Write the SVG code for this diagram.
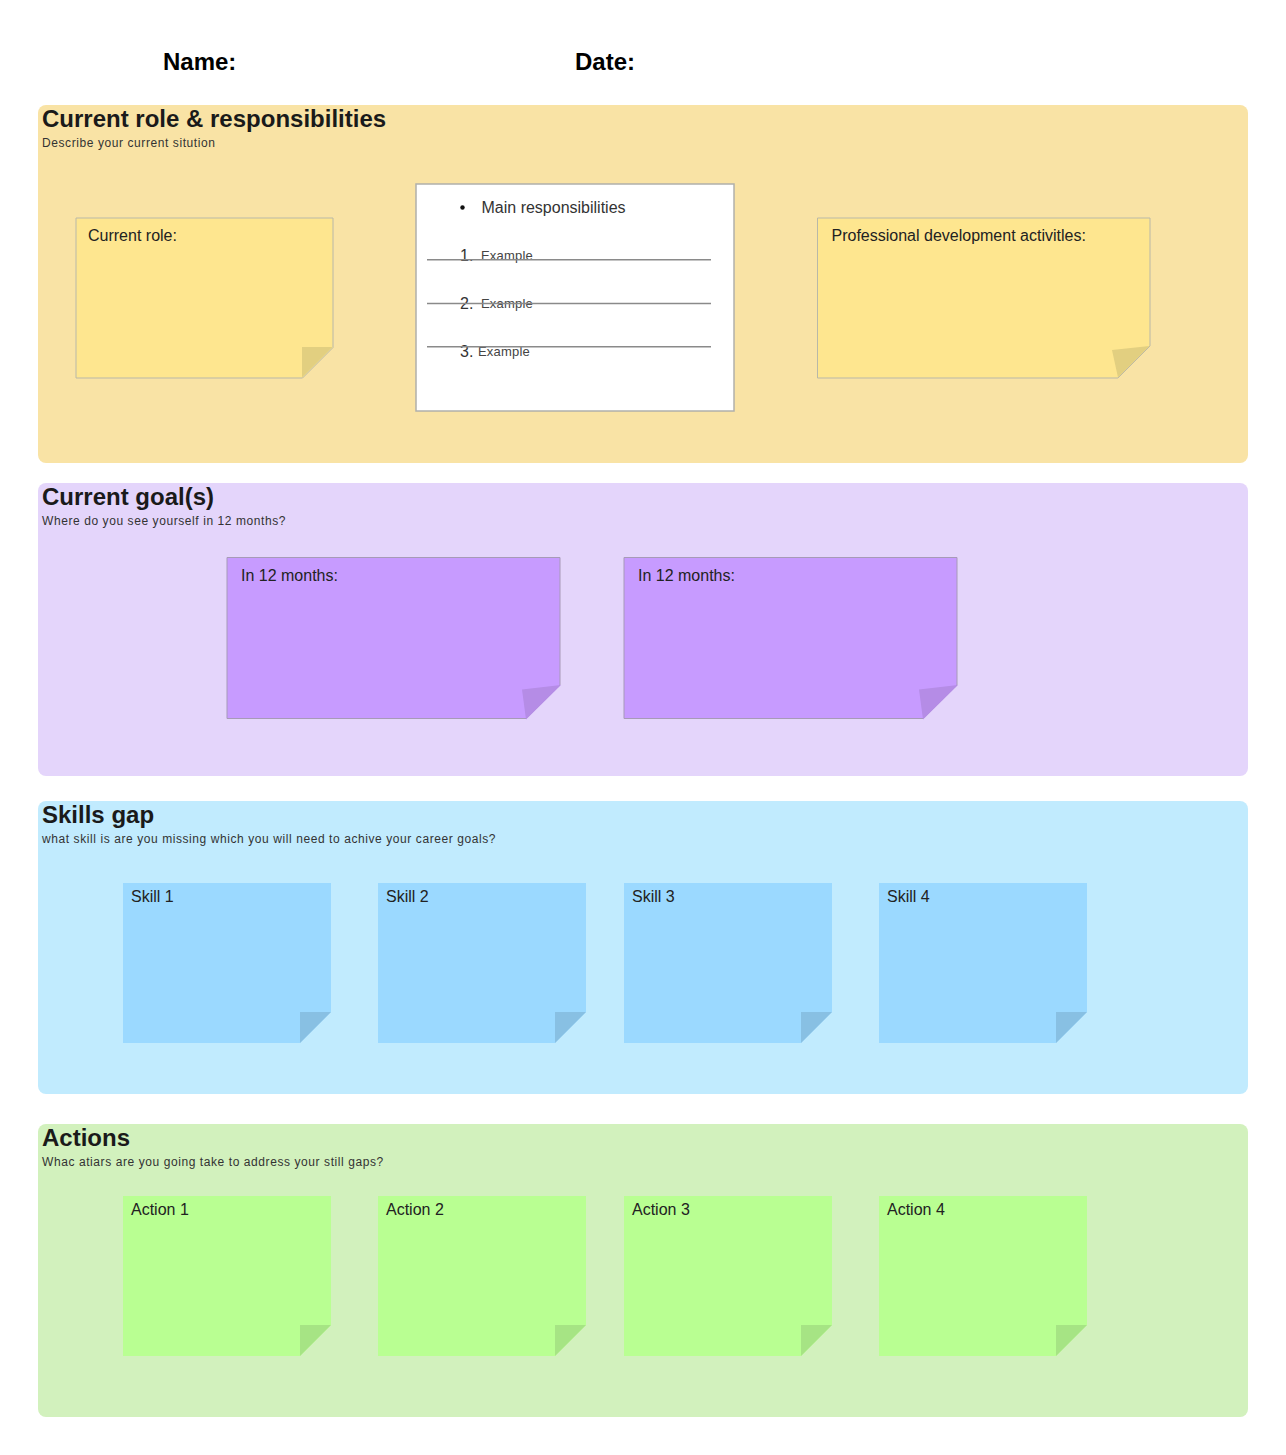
<svg xmlns="http://www.w3.org/2000/svg" width="1286" height="1455" viewBox="0 0 1286 1455">
<style>
text{font-family:"Liberation Sans",Arial,sans-serif;fill:#1f1f1f}
.h{font-size:24px;font-weight:700;fill:#1a1a1a}
.s{font-size:12px;fill:#333;letter-spacing:.58px}
.t{font-size:16px;fill:#222}
.top{font-size:24px;font-weight:700;fill:#000}
.e{font-size:13px;fill:#444;letter-spacing:.2px}
.n{font-size:16px;fill:#333}
.ln{stroke:#8a8a8a;stroke-width:1.500;fill:none}
.y{fill:#fee68f;stroke:#b9b8a8;stroke-width:1}
.yf{fill:#e2cf80}
.p{fill:#c79bff;stroke:#a79ab8;stroke-width:1}
.pf{fill:#b58ce6}
.b{fill:#9bd9ff}
.bf{fill:#88c0e3}
.g{fill:#b9ff92}
.gf{fill:#a6e484}
</style>
<rect width="1286" height="1455" fill="#fff"/>
<g id="header">
<text class="top" x="163" y="70">Name:</text>
<text class="top" x="575" y="70">Date:</text>
</g>
<g id="section-role">
<rect x="38" y="105" width="1210" height="358" rx="8" fill="#f9e3a5"/>
<text class="h" x="42" y="127">Current role &amp; responsibilities</text>
<text class="s" x="42" y="147">Describe your current sitution</text>
</g>
<g id="section-goals">
<rect x="38" y="483" width="1210" height="293" rx="8" fill="#e4d5fb"/>
<text class="h" x="42" y="505">Current goal(s)</text>
<text class="s" x="42" y="525">Where do you see yourself in 12 months?</text>
</g>
<g id="section-skills">
<rect x="38" y="801" width="1210" height="293" rx="8" fill="#c1ebfe"/>
<text class="h" x="42" y="823">Skills gap</text>
<text class="s" x="42" y="843">what skill is are you missing which you will need to achive your career goals?</text>
</g>
<g id="section-actions">
<rect x="38" y="1124" width="1210" height="293" rx="8" fill="#d2f1bd"/>
<text class="h" x="42" y="1146">Actions</text>
<text class="s" x="42" y="1166">Whac atiars are you going take to address your still gaps?</text>
</g>
<g id="note-role">
<path class="y" d="M76 218H333V347.500L302.500 378H76Z"/>
<path class="yf" d="M302 347H332.500L302 377.500Z"/>
<text class="t" x="88" y="241">Current role:</text>
</g>
<g id="card-responsibilities">
<rect x="416" y="184" width="318" height="227" fill="#fff" stroke="#b0b0ab" stroke-width="1.500"/>
<circle cx="462.500" cy="207.500" r="2.200" fill="#111"/>
<text class="n" x="481.500" y="213">Main responsibilities</text>
<text class="n" x="460" y="261">1.</text>
<text class="e" x="481" y="260">Example</text>
<text class="n" x="460" y="309">2.</text>
<text class="e" x="481" y="308">Example</text>
<text class="n" x="460" y="357">3.</text>
<text class="e" x="478" y="356">Example</text>
</g>
<g id="connectors">
<path class="ln" d="M427 259.800H711M427 303.500H711M427 346.800H711"/>
</g>
<g id="note-development">
<path class="y" d="M817.500 218H1150V346L1118 378H817.500Z"/>
<path class="yf" d="M1112 350L1149.500 346L1118 377.500Z"/>
<text class="t" x="831.500" y="241">Professional development activitles:</text>
</g>
<g id="note-goal-1">
<path class="p" d="M227 557.500H560V685L526 718.500H227Z"/>
<path class="pf" d="M522 689.500L561 685L526 719.500Z"/>
<text class="t" x="241" y="581">In 12 months:</text>
</g>
<g id="note-goal-2">
<path class="p" d="M624 557.500H957V685L923 718.500H624Z"/>
<path class="pf" d="M919 689.500L958 685L923 719.500Z"/>
<text class="t" x="638" y="581">In 12 months:</text>
</g>
<g id="note-skill-1"><path class="b" d="M123 883H331V1012L300 1043H123Z"/><path class="bf" d="M300 1012H331L300 1043Z"/><text class="t" x="131" y="902">Skill 1</text></g>
<g id="note-skill-2"><path class="b" d="M378 883H586V1012L555 1043H378Z"/><path class="bf" d="M555 1012H586L555 1043Z"/><text class="t" x="386" y="902">Skill 2</text></g>
<g id="note-skill-3"><path class="b" d="M624 883H832V1012L801 1043H624Z"/><path class="bf" d="M801 1012H832L801 1043Z"/><text class="t" x="632" y="902">Skill 3</text></g>
<g id="note-skill-4"><path class="b" d="M879 883H1087V1012L1056 1043H879Z"/><path class="bf" d="M1056 1012H1087L1056 1043Z"/><text class="t" x="887" y="902">Skill 4</text></g>
<g id="note-action-1"><path class="g" d="M123 1196H331V1325L300 1356H123Z"/><path class="gf" d="M300 1325H331L300 1356Z"/><text class="t" x="131" y="1215">Action 1</text></g>
<g id="note-action-2"><path class="g" d="M378 1196H586V1325L555 1356H378Z"/><path class="gf" d="M555 1325H586L555 1356Z"/><text class="t" x="386" y="1215">Action 2</text></g>
<g id="note-action-3"><path class="g" d="M624 1196H832V1325L801 1356H624Z"/><path class="gf" d="M801 1325H832L801 1356Z"/><text class="t" x="632" y="1215">Action 3</text></g>
<g id="note-action-4"><path class="g" d="M879 1196H1087V1325L1056 1356H879Z"/><path class="gf" d="M1056 1325H1087L1056 1356Z"/><text class="t" x="887" y="1215">Action 4</text></g>
</svg>
